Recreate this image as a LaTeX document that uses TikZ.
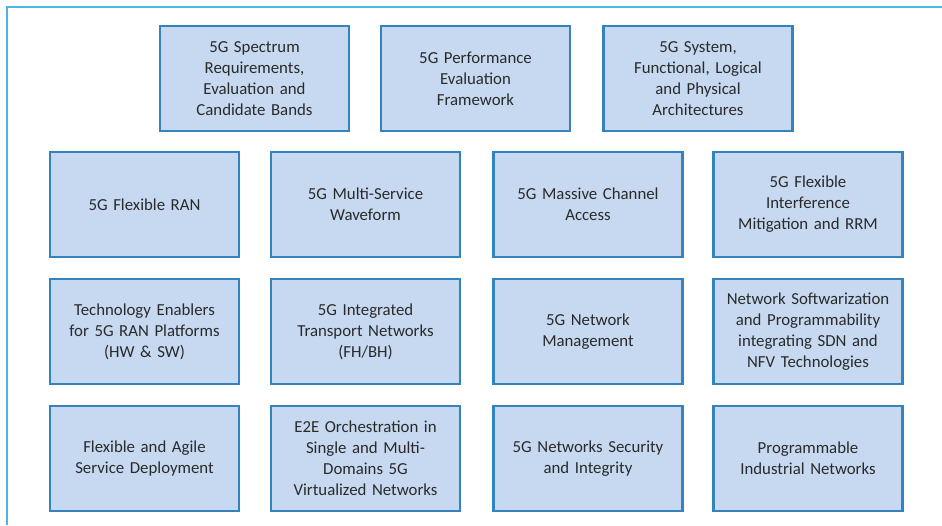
\documentclass[tikz,border=0pt]{standalone}
\usepackage{fontspec}
\setmainfont{Carlito}
\definecolor{boxfill}{HTML}{C6D9F0}
\definecolor{boxline}{HTML}{3483BE}
\definecolor{frameline}{HTML}{4BB6EE}
\definecolor{txt}{HTML}{2A2A2A}
\begin{document}
\begin{tikzpicture}[x=1pt,y=-1pt,
  blk/.style={draw=boxline, line width=2.8pt, fill=boxfill, text=txt,
    minimum width=189pt, minimum height=105pt, inner sep=0pt,
    align=center, text width=185pt,
    font=\fontsize{16.8}{21}\selectfont},
  frm/.style={draw=frameline, line width=1.2pt}]
\useasboundingbox (0,0) rectangle (942,525);
\draw[frm] (7,525) -- (7,7) -- (942,7);
% row 1
\node[blk] (b11) at (254.5,78.5) {5G Spectrum\\Requirements,\\Evaluation and\\Candidate Bands};
\node[blk] (b12) at (475.5,78.5) {5G Performance\\Evaluation\\Framework};
\node[blk] (b13) at (698,78.5) {5G System,\\Functional, Logical\\and Physical\\Architectures};
% row 2
\node[blk] (b21) at (144.5,204.5) {5G Flexible RAN};
\node[blk] (b22) at (365.5,204.5) {5G Multi-Service\\Waveform};
\node[blk] (b23) at (588,204.5) {5G Massive Channel\\Access};
\node[blk] (b24) at (808,204.5) {5G Flexible\\Interference\\Mitigation and RRM};
% row 3
\node[blk] (b31) at (144.5,331.5) {Technology Enablers\\for 5G RAN Platforms\\(HW \& SW)};
\node[blk] (b32) at (365.5,331.5) {5G Integrated\\Transport Networks\\(FH/BH)};
\node[blk] (b33) at (588,331.5) {5G Network\\Management};
\node[blk] (b34) at (808,331.5) {Network Softwarization\\and Programmability\\integrating SDN and\\NFV Technologies};
% row 4
\node[blk] (b41) at (144.5,458.5) {Flexible and Agile\\Service Deployment};
\node[blk] (b42) at (365.5,458.5) {E2E Orchestration in\\Single and Multi-\\Domains 5G\\Virtualized Networks};
\node[blk] (b43) at (588,458.5) {5G Networks Security\\and Integrity};
\node[blk] (b44) at (808,458.5) {Programmable\\Industrial Networks};
\end{tikzpicture}
\end{document}
